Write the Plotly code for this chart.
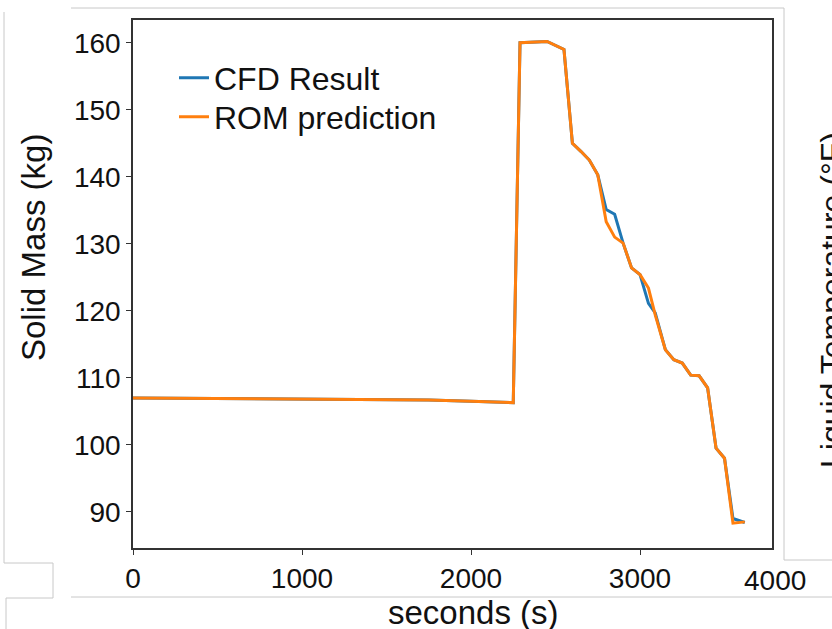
import plotly.graph_objects as go

# ---- data ----
cfd_x = [0, 1750, 2000, 2250, 2290, 2450, 2550, 2600, 2650, 2700, 2750, 2800, 2850, 2900,
         2950, 3000, 3050, 3090, 3150, 3200, 3250, 3300, 3350, 3400, 3450, 3500, 3550, 3620]
cfd_y = [107.0, 106.7, 106.5, 106.3, 160.0, 160.2, 159.0, 145.0, 143.8, 142.5, 140.3, 135.1, 134.4, 130.1,
         126.4, 125.4, 121.1, 119.7, 114.2, 112.7, 112.2, 110.4, 110.3, 108.5, 99.5, 98.0, 89.0, 88.4]

rom_x = [0, 1750, 2000, 2250, 2290, 2450, 2550, 2600, 2650, 2700, 2750, 2800, 2850, 2900,
         2950, 3000, 3050, 3090, 3150, 3200, 3250, 3300, 3350, 3400, 3450, 3500, 3550, 3620]
rom_y = [107.0, 106.7, 106.5, 106.3, 160.0, 160.2, 159.0, 145.0, 143.8, 142.5, 140.3, 133.3, 131.0, 130.1,
         126.4, 125.4, 123.4, 119.4, 114.2, 112.7, 112.2, 110.4, 110.3, 108.5, 99.5, 98.0, 88.3, 88.5]

x_ticks = [0, 1000, 2000, 3000]
y_ticks = [90, 100, 110, 120, 130, 140, 150, 160]

W, H = 832, 629
L, R, T, B = 133, 772, 20, 548
FONT = "Arial, Liberation Sans, sans-serif"


def px(xp):
    return (xp - L) / (R - L)


def py(yp):
    return (B - yp) / (B - T)


fig = go.Figure()
fig.add_trace(go.Scatter(x=cfd_x, y=cfd_y, mode="lines", name="CFD Result",
                         line=dict(color="#1f77b4", width=3), legend="legend"))
fig.add_trace(go.Scatter(x=rom_x, y=rom_y, mode="lines", name="ROM prediction",
                         line=dict(color="#ff7f0e", width=3), legend="legend2"))

axis_common = dict(showgrid=False, zeroline=False, showline=True, mirror=True,
                   linecolor="#333333", linewidth=1.6, ticks="outside", ticklen=5,
                   tickcolor="#333333", tickwidth=1.3,
                   tickfont=dict(family=FONT, size=28, color="#111111"))

legend_common = dict(xanchor="left", yanchor="middle", bgcolor="rgba(0,0,0,0)",
                     font=dict(family=FONT, size=32, color="#111111"))

fig.update_layout(
    width=W, height=H,
    margin=dict(l=L, r=W - R, t=T, b=H - B),
    paper_bgcolor="white", plot_bgcolor="white",
    xaxis=dict(range=[0, 3781], tickvals=x_ticks, **axis_common),
    yaxis=dict(range=[84.6, 163.4], tickvals=y_ticks, **axis_common),
    showlegend=True,
    legend=dict(x=px(174), y=py(78), **legend_common),
    legend2=dict(x=px(174), y=py(117), **legend_common),
)

annotations = [
    dict(text="4000", x=px(775), y=py(580), xref="paper", yref="paper",
         xanchor="center", yanchor="middle",
         showarrow=False, font=dict(family=FONT, size=28, color="#111111")),
    dict(text="Solid Mass (kg)", x=px(34), y=py(248), xref="paper", yref="paper",
         xanchor="center", yanchor="middle",
         textangle=-90, showarrow=False, font=dict(family=FONT, size=33, color="#111111")),
    dict(text="seconds (s)", x=px(473), y=py(612), xref="paper", yref="paper",
         xanchor="center", yanchor="middle",
         showarrow=False, font=dict(family=FONT, size=33, color="#111111")),
    dict(text="Liquid Temperature (°F)", x=px(812), y=py(300), xref="paper", yref="paper",
         xanchor="left", yanchor="middle", textangle=-90, showarrow=False,
         font=dict(family=FONT, size=32, color="#111111")),
]
fig.update_layout(annotations=annotations)

frame_lines = [
    (71, 8, 784, 8), (784, 8, 784, 560), (784, 560, 832, 560),
    (4, 12, 4, 563), (4, 563, 53, 563), (53, 563, 53, 598), (6, 598, 53, 598),
    (6, 598, 6, 629), (71, 597, 832, 597),
]
shapes = []
for x0, y0, x1, y1 in frame_lines:
    shapes.append(dict(type="line", xref="paper", yref="paper",
                       x0=px(x0), y0=py(y0), x1=px(x1), y1=py(y1),
                       line=dict(color="#c8c8c8", width=1)))
fig.update_layout(shapes=shapes)

fig.write_html("out.html")
